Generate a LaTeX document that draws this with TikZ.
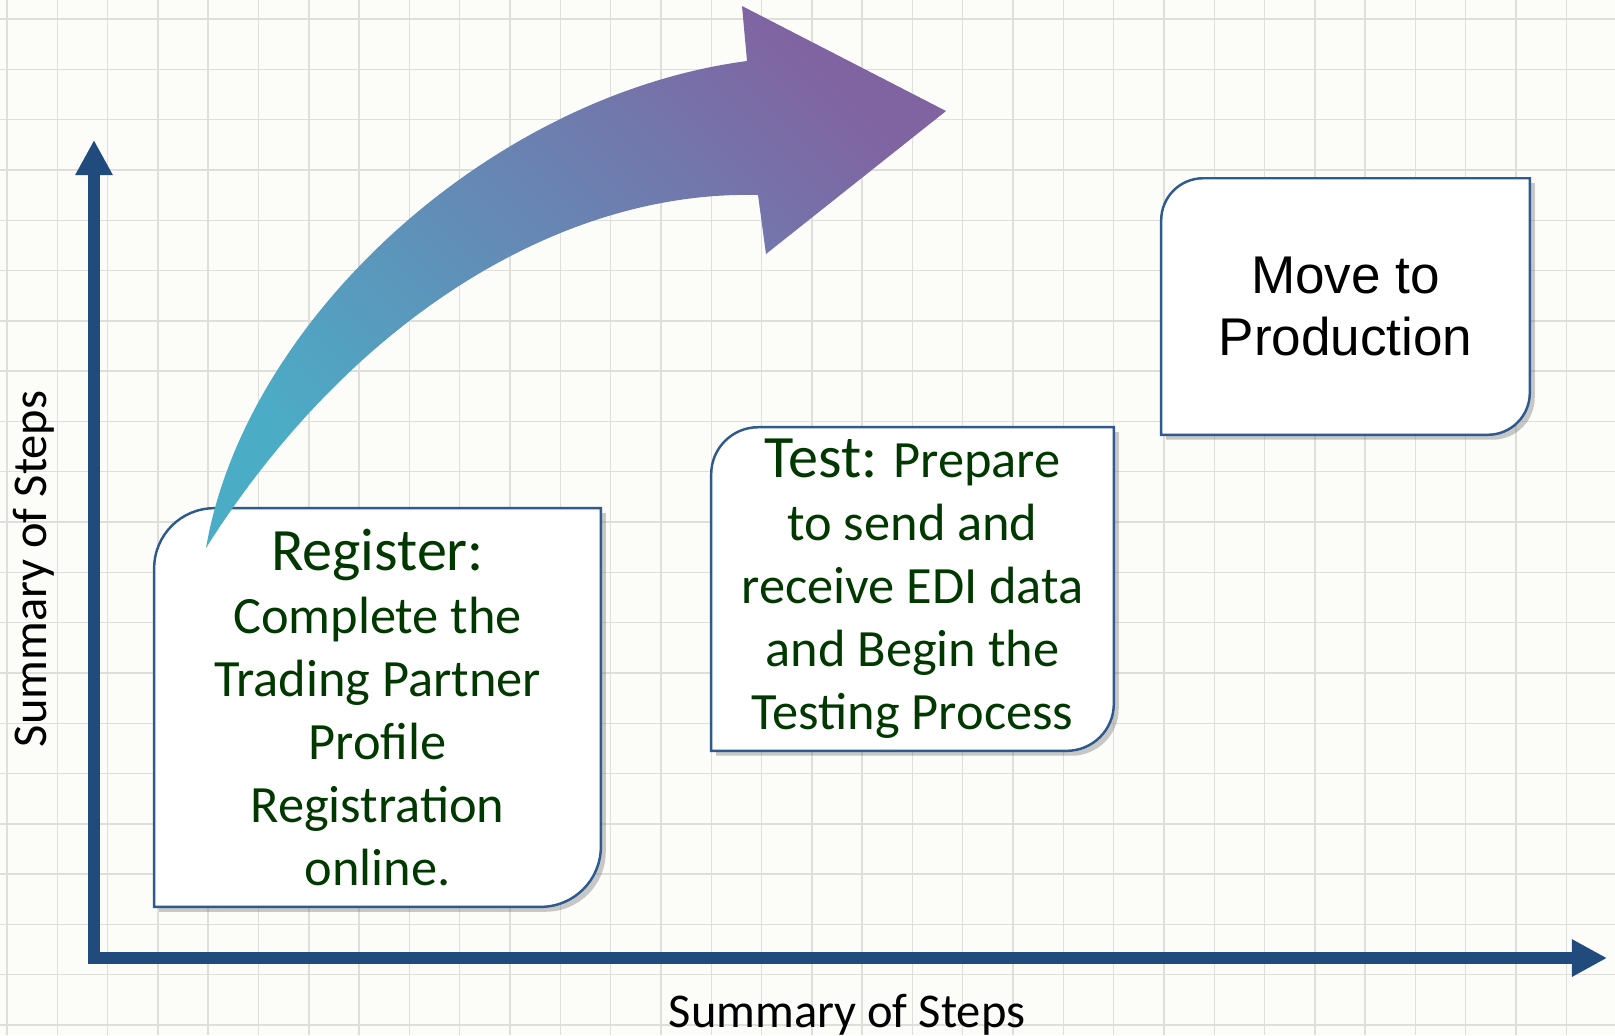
\documentclass[tikz,border=0pt]{standalone}
\usepackage{fontspec}
\setmainfont{Carlito}
\newfontfamily\arialfont{Liberation Sans}
\usetikzlibrary{arrows.meta,backgrounds,shadows}
\definecolor{paper}{RGB}{252,253,248}
\definecolor{gridgray}{RGB}{222,223,219}
\definecolor{axisblue}{RGB}{33,74,125}
\definecolor{cardblue}{RGB}{46,90,142}
\definecolor{stepgreen}{RGB}{0,56,0}
\definecolor{arrowteal}{RGB}{75,172,198}
\definecolor{arrowpurple}{RGB}{128,100,162}
\newcommand\headsize{\fontsize{17.1}{17.9}\selectfont}
\begin{document}
\begin{tikzpicture}[x=0.01cm, y=-0.01cm,
    card/.style={inner sep=0pt, align=center, text=stepgreen, font=\fontsize{14.9}{17.9}\selectfont},
    cardline/.style={draw=cardblue, line width=0.7pt, fill=white,
      drop shadow={shadow xshift=1.4pt, shadow yshift=-1.4pt, fill=black!60, opacity=0.35}},
    axislabel/.style={anchor=base, font=\fontsize{13.8}{17}\selectfont}]
  \useasboundingbox (0,0) rectangle (1615,1035);
  \coordinate (o) at (94,958);
  \coordinate (ytip) at (94,140);
  \coordinate (xtip) at (1607,958);
  \node[card, minimum width=4.45cm, minimum height=3.97cm] (reg) at (377.5,707.5)
    {{\headsize Register:}\\Complete the\\Trading Partner\\Profile\\Registration\\online.};
  \node[card, minimum width=4.01cm, minimum height=3.22cm] (test) at (912.5,589)
    {{\headsize Test:} Prepare\\to send and\\receive EDI data\\and Begin the\\Testing Process};
  \node[card, minimum width=3.67cm, minimum height=2.55cm, text=black,
    font=\arialfont\fontsize{15.1}{17.6}\selectfont] (prod) at (1345.5,306.5) {Move to\\Production};
  \begin{scope}[on background layer]
    \fill[paper] (0,0) rectangle (1615,1035);
    \foreach \i in {0,...,32}
      \draw[gridgray, line width=0.4pt] (7+50.3*\i,0) -- (7+50.3*\i,1035);
    \foreach \i in {0,...,20}
      \draw[gridgray, line width=0.4pt] (0,19+50.3*\i) -- (1615,19+50.3*\i);
    \foreach \nm/\rad in {reg/0.6cm,test/0.47cm,prod/0.42cm}
      \draw[cardline] (\nm.north) [rounded corners=\rad] -- (\nm.north west) -- (\nm.west)
        [sharp corners] -- (\nm.south west) -- (\nm.south) [rounded corners=\rad] -- (\nm.south east)
        -- (\nm.east) [sharp corners] -- (\nm.north east) -- cycle;
  \end{scope}
  \draw[axisblue, line width=3.4pt, {Triangle[length=10pt,width=10pt]}-{Triangle[length=10pt,width=10pt]}]
    (ytip) -- (o) -- (xtip);
  \shade[bottom color=arrowteal, top color=arrowpurple, shading angle=-45]
    (206,548) .. controls (245,320) and (490,95) .. (747,61) -- (742,6) -- (946,111)
    -- (766,254) -- (758,195) .. controls (560,190) and (350,320) .. (206,548) -- cycle;
  \node[axislabel] (xlabel) at (847,1027) {Summary of Steps};
  \node[axislabel, rotate=90] (ylabel) at (47,569) {Summary of Steps};
\end{tikzpicture}
\end{document}
